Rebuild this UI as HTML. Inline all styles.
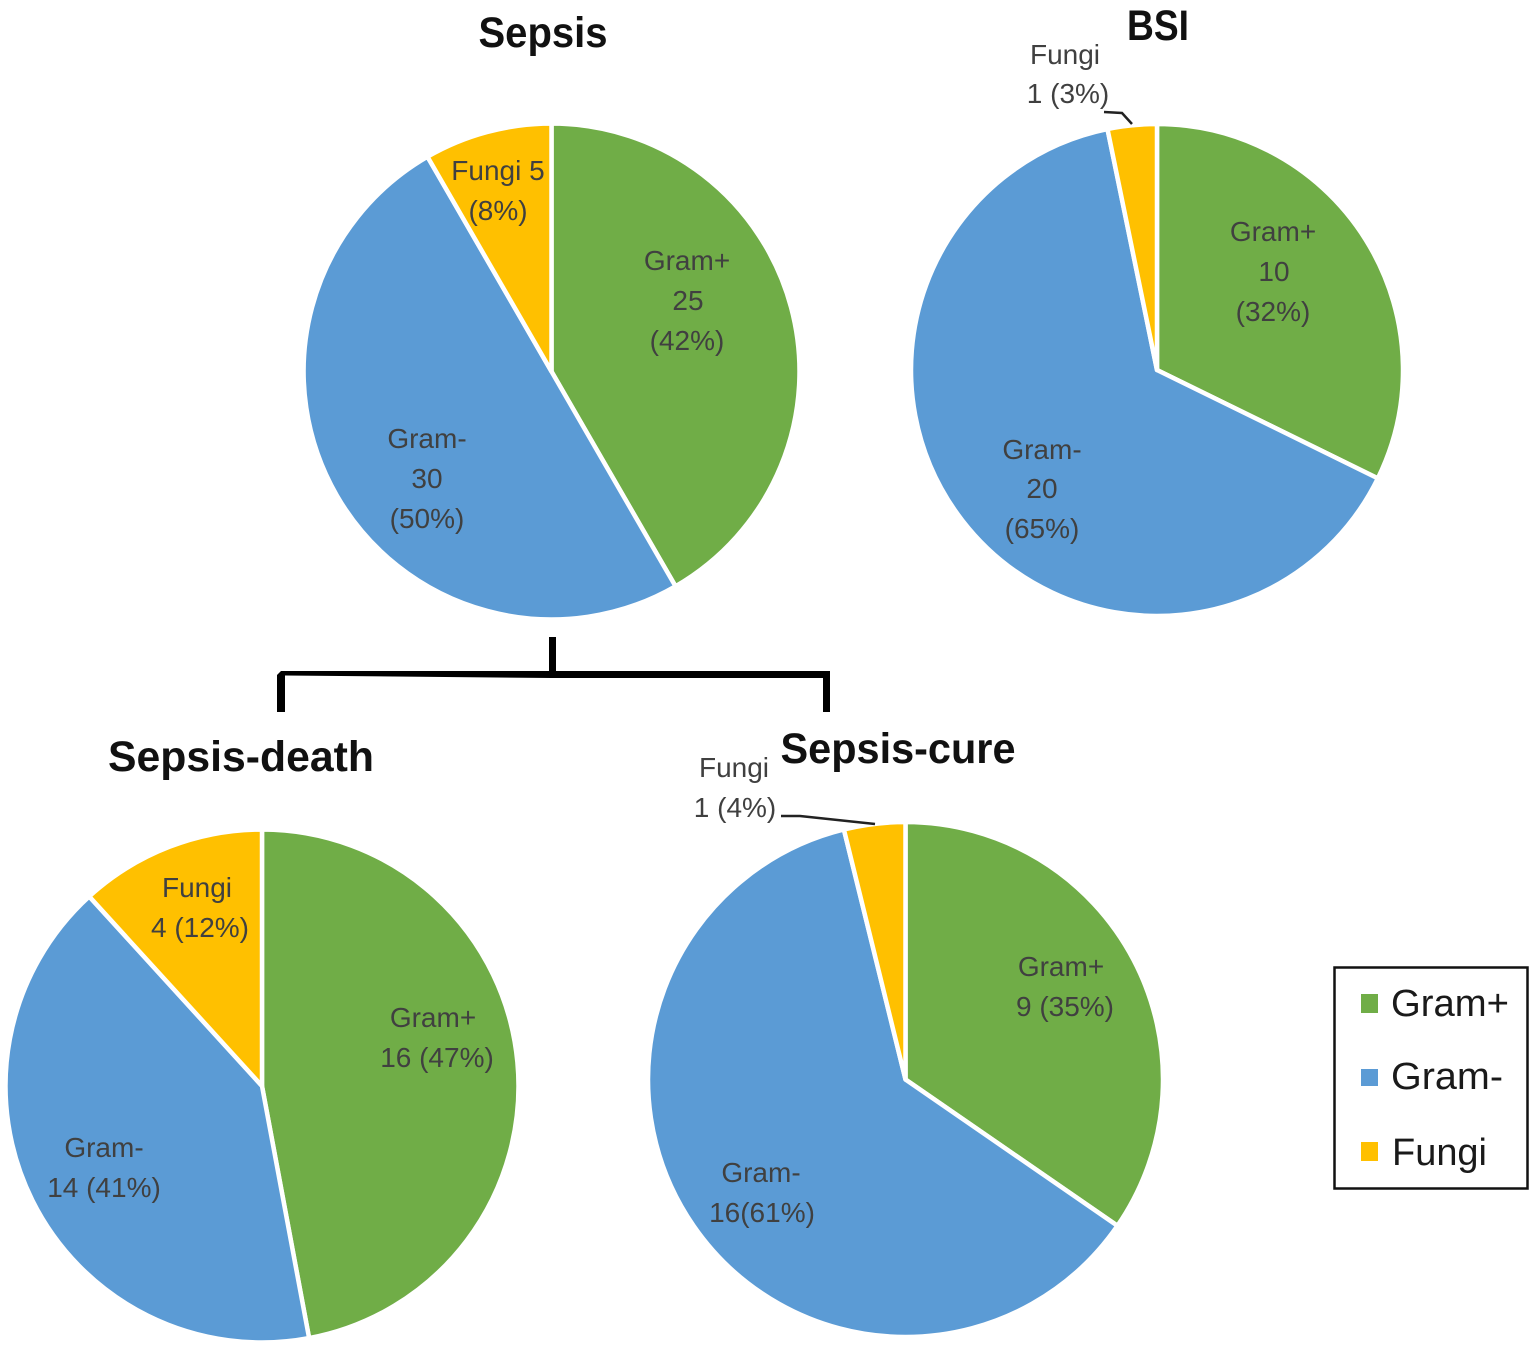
<!DOCTYPE html>
<html lang="en">
<head>
<meta charset="utf-8">
<title>Sepsis and BSI pathogen pie charts</title>
<style>
  html, body { margin: 0; padding: 0; background: #fff; }
  svg { display: block; }
  text { font-family: "Liberation Sans", "DejaVu Sans", sans-serif; }
  .lbl { font-size: 28px; fill: #404040; text-anchor: middle; }
  .ttl { font-size: 43px; font-weight: 700; fill: #111; text-anchor: middle; }
  .leg { font-size: 38px; fill: #1a1a1a; }
</style>
</head>
<body>
<svg id="chart" xmlns="http://www.w3.org/2000/svg" width="1535" height="1347" viewBox="0 0 1535 1347">
  <g id="pies"></g>

  <text class="ttl" x="543" y="47" textLength="129" lengthAdjust="spacingAndGlyphs">Sepsis</text>
  <text class="ttl" x="1158" y="40" textLength="62" lengthAdjust="spacingAndGlyphs">BSI</text>
  <text class="ttl" x="241" y="771" textLength="266" lengthAdjust="spacingAndGlyphs">Sepsis-death</text>
  <text class="ttl" x="898" y="763" textLength="235" lengthAdjust="spacingAndGlyphs">Sepsis-cure</text>

  <g>
    <text class="lbl"><tspan x="687" y="270">Gram+</tspan><tspan x="688" y="310">25</tspan><tspan x="687" y="350">(42%)</tspan></text>
    <text class="lbl"><tspan x="427" y="448">Gram-</tspan><tspan x="427" y="488">30</tspan><tspan x="427" y="528">(50%)</tspan></text>
    <text class="lbl"><tspan x="498" y="180">Fungi 5</tspan><tspan x="498" y="220">(8%)</tspan></text>
  </g>
  <g>
    <text class="lbl"><tspan x="1273" y="241">Gram+</tspan><tspan x="1274" y="281">10</tspan><tspan x="1273" y="321">(32%)</tspan></text>
    <text class="lbl"><tspan x="1042" y="459">Gram-</tspan><tspan x="1042" y="498">20</tspan><tspan x="1042" y="538">(65%)</tspan></text>
    <text class="lbl"><tspan x="1065" y="64">Fungi</tspan><tspan x="1068" y="103">1 (3%)</tspan></text>
    <polyline points="1104,112 1122,113 1132,124" fill="none" stroke="#222" stroke-width="2.5"/>
  </g>
  <g>
    <text class="lbl"><tspan x="433" y="1027">Gram+</tspan><tspan x="437" y="1067">16 (47%)</tspan></text>
    <text class="lbl"><tspan x="104" y="1157">Gram-</tspan><tspan x="104" y="1197">14 (41%)</tspan></text>
    <text class="lbl"><tspan x="197" y="897">Fungi</tspan><tspan x="200" y="937">4 (12%)</tspan></text>
  </g>
  <g>
    <text class="lbl"><tspan x="1061" y="976">Gram+</tspan><tspan x="1065" y="1016">9 (35%)</tspan></text>
    <text class="lbl"><tspan x="761" y="1182">Gram-</tspan><tspan x="762" y="1222">16(61%)</tspan></text>
    <text class="lbl"><tspan x="734" y="777">Fungi</tspan><tspan x="735" y="817">1 (4%)</tspan></text>
    <polyline points="781,816 800,816 875,824" fill="none" stroke="#222" stroke-width="2.5"/>
  </g>

  <g>
    <rect x="549" y="637" width="7" height="38" fill="#000"/>
    <polygon fill="#000" points="277,712 277,675 281,671 830,671 830,712 823,712 823,678 552,678 285,675.5 285,712"/>
  </g>

  <g>
    <rect x="1334.5" y="967.5" width="193" height="221" fill="#fff" stroke="#111" stroke-width="2.5"/>
    <rect x="1361" y="994" width="17" height="19" fill="#70AD47"/>
    <text class="leg" x="1391" y="1016" textLength="118" lengthAdjust="spacingAndGlyphs">Gram+</text>
    <rect x="1361" y="1069" width="17" height="17" fill="#5B9BD5"/>
    <text class="leg" x="1391" y="1089" textLength="112" lengthAdjust="spacingAndGlyphs">Gram-</text>
    <rect x="1361" y="1142" width="17" height="19" fill="#FFC000"/>
    <text class="leg" x="1392" y="1165" textLength="95" lengthAdjust="spacingAndGlyphs">Fungi</text>
  </g>
</svg>

<script>
const categories = ['gram-pos', 'gram-neg', 'fungi'];
const sepsisValues = [25, 30, 5];
const bsiValues = [10, 20, 1];
const deathValues = [16, 14, 4];
const cureValues = [9, 16, 1];

const colorScale = { 'gram-pos': '#70AD47', 'gram-neg': '#5B9BD5', 'fungi': '#FFC000' };

function sliceEnd(cx, cy, r, frac) {
  const a = frac * 2 * Math.PI;
  return [cx + r * Math.sin(a), cy - r * Math.cos(a)];
}

function drawPie(name, values, cx, cy, r) {
  const NS = 'http://www.w3.org/2000/svg';
  const group = document.createElementNS(NS, 'g');
  
  
  const total = values.reduce(function (s, v) { return s + v; }, 0);
  let acc = 0;
  values.forEach(function (v, i) {
    const f0 = acc / total;
    const f1 = (acc + v) / total;
    acc += v;
    const p0 = sliceEnd(cx, cy, r, f0);
    const p1 = sliceEnd(cx, cy, r, f1);
    const large = f1 - f0 > 0.5 ? 1 : 0;
    const slice = document.createElementNS(NS, 'path');
    slice.setAttribute('d', 'M' + cx + ',' + cy + ' L' + p0[0] + ',' + p0[1] +
      ' A' + r + ',' + r + ' 0 ' + large + ' 1 ' + p1[0] + ',' + p1[1] + ' Z');
    slice.setAttribute('fill', colorScale[categories[i]]);
    slice.setAttribute('stroke', '#fff');
    slice.setAttribute('stroke-width', '4.5');
    slice.setAttribute('stroke-linejoin', 'round');
    
    
    group.appendChild(slice);
  });
  document.getElementById('pies').appendChild(group);
}

drawPie('sepsis', sepsisValues, 551.5, 371.5, 248);
drawPie('bsi', bsiValues, 1157, 370, 246);
drawPie('sepsis-death', deathValues, 262, 1086, 256.5);
drawPie('sepsis-cure', cureValues, 905.5, 1079.5, 257.5);
</script>
</body>
</html>
